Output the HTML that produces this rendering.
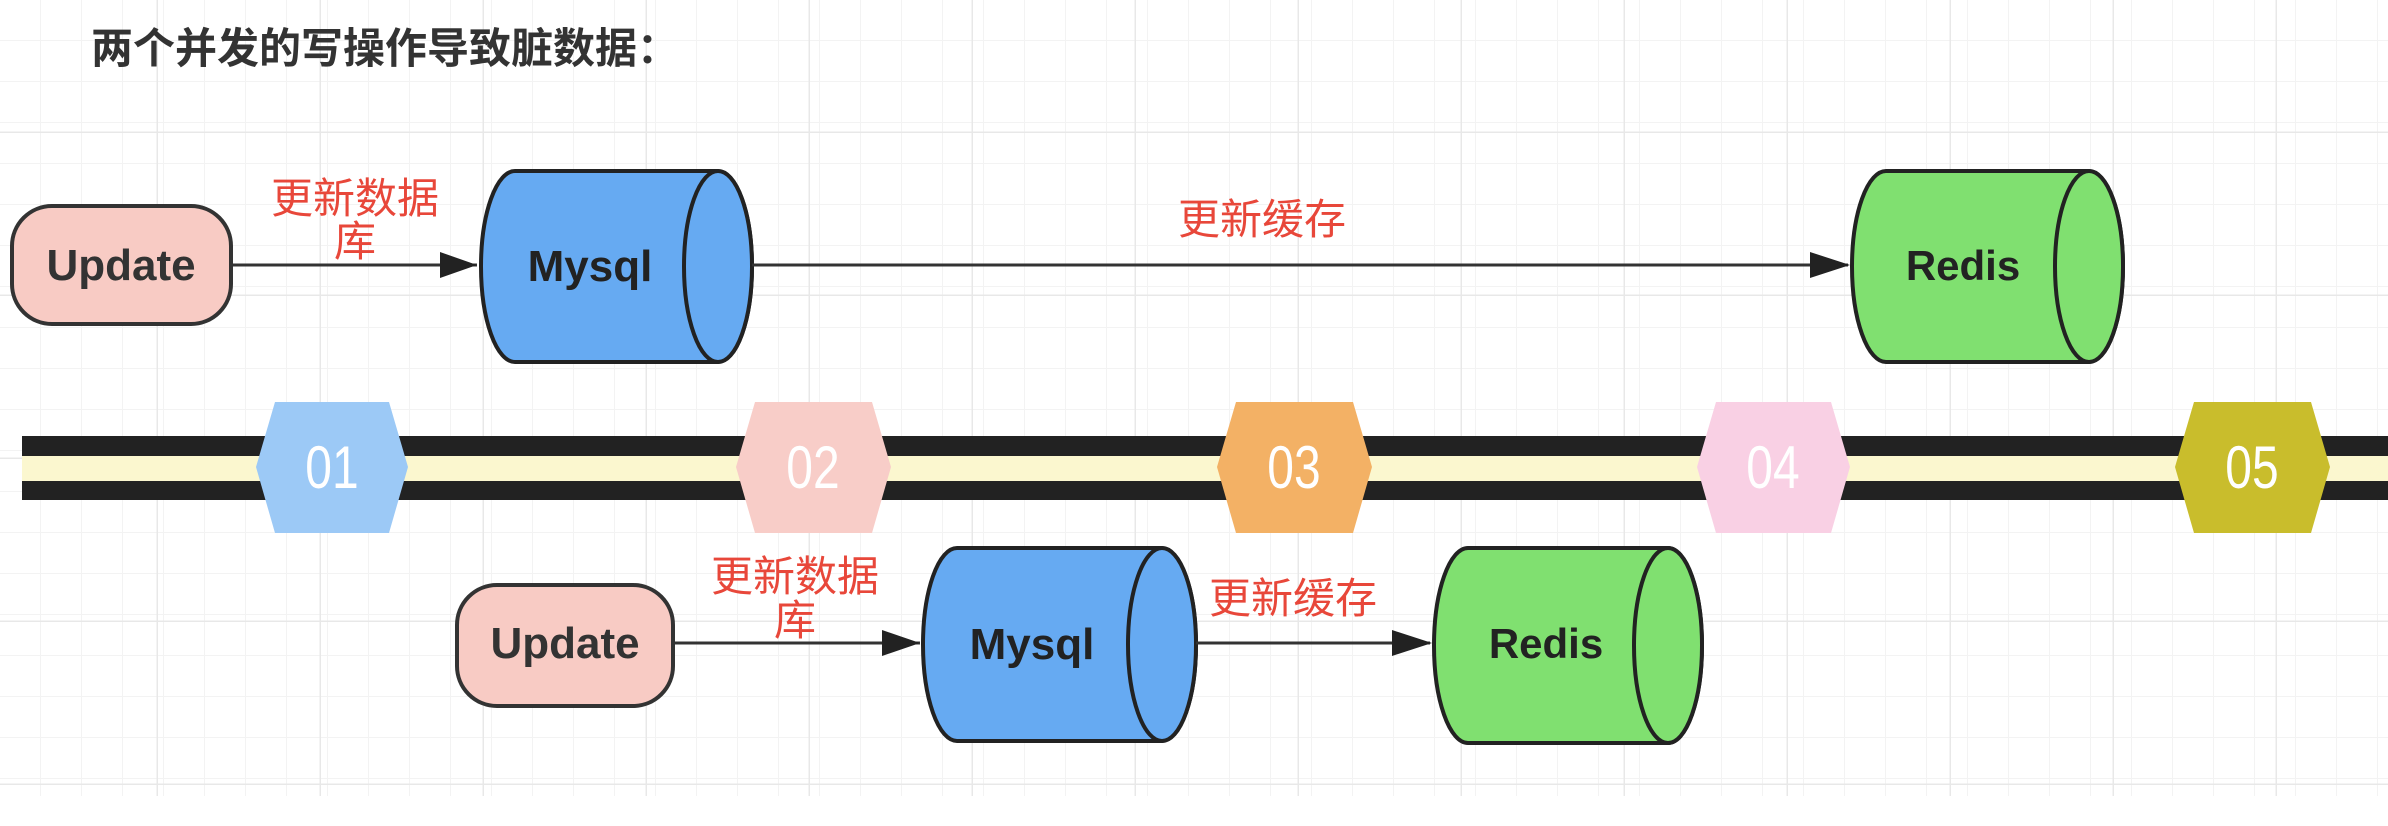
<!DOCTYPE html>
<html><head><meta charset="utf-8"><style>
html,body{margin:0;padding:0;background:#fff;}
svg{display:block;}
text{font-family:"Liberation Sans","Noto Sans CJK SC",sans-serif;}
</style></head><body>
<svg width="2388" height="826" viewBox="0 0 2388 826" xmlns="http://www.w3.org/2000/svg">
<defs>
<pattern id="minor" width="41" height="41" patternUnits="userSpaceOnUse">
<path d="M41 0V41M0 41H41" stroke="#f3f3f3" stroke-width="2" fill="none"/>
</pattern>
<pattern id="major" width="163" height="163" patternUnits="userSpaceOnUse" x="-5" y="-30">
<path d="M163 0V163M0 163H163" stroke="#e8e8e8" stroke-width="3" fill="none"/>
</pattern>
</defs>
<rect width="2388" height="796" fill="url(#minor)"/>
<rect width="2388" height="796" fill="url(#major)"/>

<text x="91" y="63" font-size="42" font-weight="bold" fill="#333">两个并发的写操作导致脏数据：</text>

<!-- top row -->
<rect x="12" y="206" width="219" height="118" rx="40" fill="#f8cbc4" stroke="#333" stroke-width="4"/>
<text x="121" y="280" font-size="44" font-weight="bold" fill="#333" text-anchor="middle">Update</text>
<line x1="231" y1="265" x2="477" y2="265" stroke="#333" stroke-width="3"/>
<path d="M440 252L477 265L440 278z" fill="#222"/>
<text x="355" y="213" font-size="42" fill="#e8473a" text-anchor="middle">更新数据</text>
<text x="355" y="256" font-size="42" fill="#e8473a" text-anchor="middle">库</text>

<path d="M515 171H718A34 95.5 0 0 1 718 362H515A34 95.5 0 0 1 515 171z" fill="#66aaf2" stroke="#222" stroke-width="4"/>
<ellipse cx="718" cy="266.5" rx="34" ry="95.5" fill="#66aaf2" stroke="#222" stroke-width="4"/>
<text x="590" y="281" font-size="44" font-weight="bold" fill="#222" text-anchor="middle">Mysql</text>

<line x1="752" y1="265" x2="1848" y2="265" stroke="#333" stroke-width="3"/>
<path d="M1810 252L1850 265L1810 278z" fill="#222"/>
<text x="1262" y="234" font-size="42" fill="#e8473a" text-anchor="middle">更新缓存</text>

<path d="M1886 171H2089A34 95.5 0 0 1 2089 362H1886A34 95.5 0 0 1 1886 171z" fill="#80e070" stroke="#222" stroke-width="4"/>
<ellipse cx="2089" cy="266.5" rx="34" ry="95.5" fill="#80e070" stroke="#222" stroke-width="4"/>
<text x="1963" y="280" font-size="42" font-weight="bold" fill="#222" text-anchor="middle">Redis</text>

<!-- timeline -->
<rect x="22" y="436" width="2366" height="20" fill="#222"/>
<rect x="22" y="456" width="2366" height="25" fill="#fbf7cf"/>
<rect x="22" y="481" width="2366" height="19" fill="#222"/>

<g font-size="60" fill="#fff" text-anchor="middle">
<polygon points="256,467 275,402 389,402 408,467 389,533 275,533" fill="#9cc9f6"/>
<text x="332" y="488" transform="translate(332 0) scale(0.8 1) translate(-332 0)">01</text>
<polygon points="736,467 755,402 872,402 891,467 872,533 755,533" fill="#f8cdc8"/>
<text x="813" y="488" transform="translate(813 0) scale(0.8 1) translate(-813 0)">02</text>
<polygon points="1217,467 1236,402 1353,402 1372,467 1353,533 1236,533" fill="#f3b165"/>
<text x="1294" y="488" transform="translate(1294 0) scale(0.8 1) translate(-1294 0)">03</text>
<polygon points="1697,467 1716,402 1831,402 1850,467 1831,533 1716,533" fill="#f9d0e4"/>
<text x="1773" y="488" transform="translate(1773 0) scale(0.8 1) translate(-1773 0)">04</text>
<polygon points="2175,467 2194,402 2311,402 2330,467 2311,533 2194,533" fill="#c9bd2c"/>
<text x="2252" y="488" transform="translate(2252 0) scale(0.8 1) translate(-2252 0)">05</text>
</g>

<!-- bottom row -->
<rect x="457" y="585" width="216" height="121" rx="40" fill="#f8cbc4" stroke="#333" stroke-width="4"/>
<text x="565" y="658" font-size="44" font-weight="bold" fill="#333" text-anchor="middle">Update</text>
<line x1="673" y1="643" x2="920" y2="643" stroke="#333" stroke-width="3"/>
<path d="M882 630L920 643L882 656z" fill="#222"/>
<text x="795" y="591" font-size="42" fill="#e8473a" text-anchor="middle">更新数据</text>
<text x="795" y="635" font-size="42" fill="#e8473a" text-anchor="middle">库</text>

<path d="M957 548H1162A34 96.5 0 0 1 1162 741H957A34 96.5 0 0 1 957 548z" fill="#66aaf2" stroke="#222" stroke-width="4"/>
<ellipse cx="1162" cy="644.5" rx="34" ry="96.5" fill="#66aaf2" stroke="#222" stroke-width="4"/>
<text x="1032" y="659" font-size="44" font-weight="bold" fill="#222" text-anchor="middle">Mysql</text>

<line x1="1196" y1="643" x2="1430" y2="643" stroke="#333" stroke-width="3"/>
<path d="M1392 630L1432 643L1392 656z" fill="#222"/>
<text x="1293" y="613" font-size="42" fill="#e8473a" text-anchor="middle">更新缓存</text>

<path d="M1468 548H1668A34 97.5 0 0 1 1668 743H1468A34 97.5 0 0 1 1468 548z" fill="#80e070" stroke="#222" stroke-width="4"/>
<ellipse cx="1668" cy="645.5" rx="34" ry="97.5" fill="#80e070" stroke="#222" stroke-width="4"/>
<text x="1546" y="658" font-size="42" font-weight="bold" fill="#222" text-anchor="middle">Redis</text>
</svg>
</body></html>
